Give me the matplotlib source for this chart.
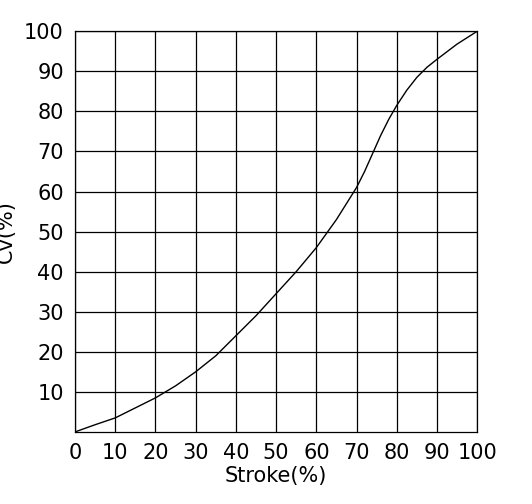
import matplotlib
matplotlib.use("Agg")
import matplotlib.pyplot as plt

plt.rcParams['font.family'] = ['Liberation Sans Narrow', 'DejaVu Sans']

stroke = [0, 5, 10, 15, 20, 25, 30, 35, 40, 45, 50, 55, 60, 65, 70, 72, 74, 76, 78, 80, 82.5, 85, 87.5, 90, 95, 100]
cv = [0, 1.8, 3.5, 6.0, 8.5, 11.5, 15, 19, 24, 29, 34.5, 40, 46, 53, 61, 65, 69.5, 74, 78, 81.5, 85.3, 88.5, 91, 93, 96.8, 100]
xticks = [0, 10, 20, 30, 40, 50, 60, 70, 80, 90, 100]
yticks = [10, 20, 30, 40, 50, 60, 70, 80, 90, 100]

fig = plt.figure(figsize=(5.32, 5.04), dpi=100)
ax = fig.add_axes([0.141, 0.143, 0.756, 0.795])
ax.plot(stroke, cv, color="black", lw=1)
ax.set_xlim(0, 100)
ax.set_ylim(0, 100)
ax.set_xticks(xticks)
ax.set_yticks(yticks)
ax.grid(True, color="black", lw=0.9)
for s in ax.spines.values():
    s.set_linewidth(0.9)
ax.tick_params(length=0, labelsize=15, pad=8)
ax.set_xlabel("Stroke(%)", fontsize=15, labelpad=2)
ax.set_ylabel("Cv(%)", fontsize=15, labelpad=6)
fig.savefig("out.png", dpi=100)
